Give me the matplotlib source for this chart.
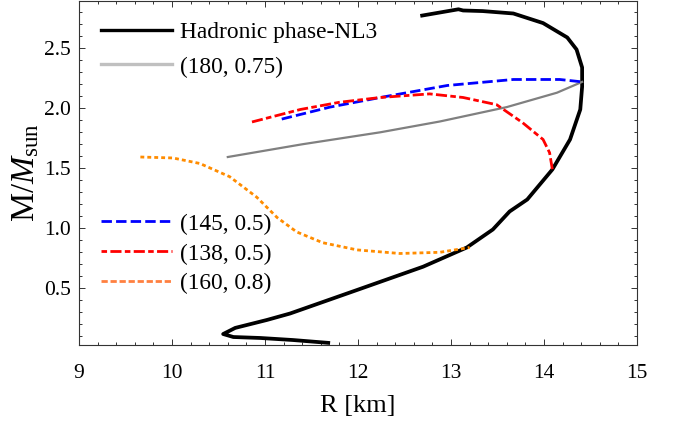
import numpy as np
import matplotlib
matplotlib.use("Agg")
from matplotlib import pyplot as plt
from matplotlib.lines import Line2D

plt.rcParams['font.family'] = ['Liberation Serif', 'DejaVu Serif']
plt.rcParams['mathtext.fontset'] = 'custom'
plt.rcParams['mathtext.rm'] = 'Liberation Serif'
plt.rcParams['mathtext.it'] = 'Liberation Serif:italic'
plt.rcParams['lines.scale_dashes'] = False

# hadronic NL3 branch (R [km], M/Msun), low mass end first
r_nl3 = [11.70, 11.30, 10.95, 10.66, 10.55, 10.68, 11.02, 11.27, 11.99, 12.70,
         13.17, 13.45, 13.63, 13.82, 14.09, 14.28, 14.39, 14.41, 14.41, 14.35,
         14.25, 13.99, 13.67, 13.34, 13.13, 13.08, 12.67]
m_nl3 = [0.044, 0.069, 0.086, 0.094, 0.119, 0.17, 0.236, 0.29, 0.486, 0.68,
         0.84, 0.99, 1.14, 1.24, 1.49, 1.74, 1.99, 2.18, 2.34, 2.49,
         2.59, 2.71, 2.79, 2.81, 2.815, 2.825, 2.77]

r_180 = [10.60, 11.40, 12.24, 12.88, 13.60, 14.14, 14.41]
m_180 = [1.594, 1.70, 1.80, 1.89, 2.01, 2.13, 2.22]

r_145 = [11.18, 11.70, 12.24, 12.96, 13.67, 14.17, 14.41]
m_145 = [1.91, 2.01, 2.09, 2.19, 2.24, 2.24, 2.22]

r_138 = [10.86, 11.38, 11.80, 12.24, 12.77, 13.13, 13.49, 13.77, 13.99, 14.06, 14.09]
m_138 = [1.886, 1.99, 2.05, 2.09, 2.12, 2.09, 2.03, 1.88, 1.74, 1.63, 1.49]

r_160 = [9.66, 10.01, 10.30, 10.62, 10.91, 11.13, 11.34, 11.62, 11.99, 12.45, 12.88, 13.20]
m_160 = [1.594, 1.586, 1.54, 1.43, 1.26, 1.09, 0.97, 0.88, 0.82, 0.79, 0.80, 0.84]

fig = plt.figure(figsize=(6.78, 4.25), dpi=100)
ax = fig.add_axes([79/678, 1 - 345/425, 558/678, 344/425])

ax.plot(r_nl3, m_nl3, color='black', lw=2.7, solid_capstyle='butt')
ax.plot(r_180, m_180, color='#808080', lw=1.6)
ax.plot(r_145, m_145, color='#0000ff', lw=2.0, dashes=(7.5, 3))
ax.plot(r_138, m_138, color='#ff0000', lw=2.0, dashes=(8, 2.4, 4, 2.4))
ax.plot(r_160, m_160, color='#ff8c00', lw=2.0, dashes=(2.8, 2.2))

ax.set_xlim(9, 15)
ax.set_ylim(0.0275, 2.894)
ax.set_xticks([9, 10, 11, 12, 13, 14, 15])
ax.set_xticks(np.arange(9, 15.01, 0.2), minor=True)
ax.set_yticks([0.5, 1.0, 1.5, 2.0, 2.5])
ax.set_yticklabels(['0.5', '1.0', '1.5', '2.0', '2.5'])
ax.set_yticks(np.arange(0.1, 2.89, 0.1), minor=True)
ax.tick_params(which='both', direction='in', top=True, right=True,
               labelsize=15.5, width=0.7, color='#333333')
ax.tick_params(axis='x', which='major', length=4, pad=14)
ax.tick_params(axis='y', which='major', length=4, pad=6)
ax.tick_params(which='minor', length=2.2)
for s in ax.spines.values():
    s.set_linewidth(0.8)
    s.set_color('#333333')

ax.set_xlabel('R [km]', fontsize=19, labelpad=8)
ax.set_ylabel(r'M/$M_{\rm sun}$', fontsize=23.5, labelpad=2)

h1 = [Line2D([], [], color='black', lw=2.4),
      Line2D([], [], color='#c0c0c0', lw=2.4)]
leg1 = ax.legend(h1, ['Hadronic phase-NL3', '(180, 0.75)'], loc='upper left',
                 bbox_to_anchor=(0.0394, 0.94), frameon=False, fontsize=16.8,
                 handlelength=3.05, handletextpad=0.34, labelspacing=0.57,
                 borderaxespad=0, borderpad=0)
ax.add_artist(leg1)
h2 = [Line2D([], [], color='#0000ff', lw=2.0, dashes=(7.5, 3)),
      Line2D([], [], color='#ff0000', lw=2.0, dashes=(4, 2.4, 8, 2.4)),
      Line2D([], [], color='#ff8040', lw=2.0, dashes=(4.5, 2))]
ax.legend(h2, ['(145, 0.5)', '(138, 0.5)', '(160, 0.8)'], loc='upper left',
          bbox_to_anchor=(0.0394, 0.383), frameon=False, fontsize=16.8,
          handlelength=3.05, handletextpad=0.34, labelspacing=0.37,
          borderaxespad=0, borderpad=0)

fig.savefig('out.png', dpi=100)
